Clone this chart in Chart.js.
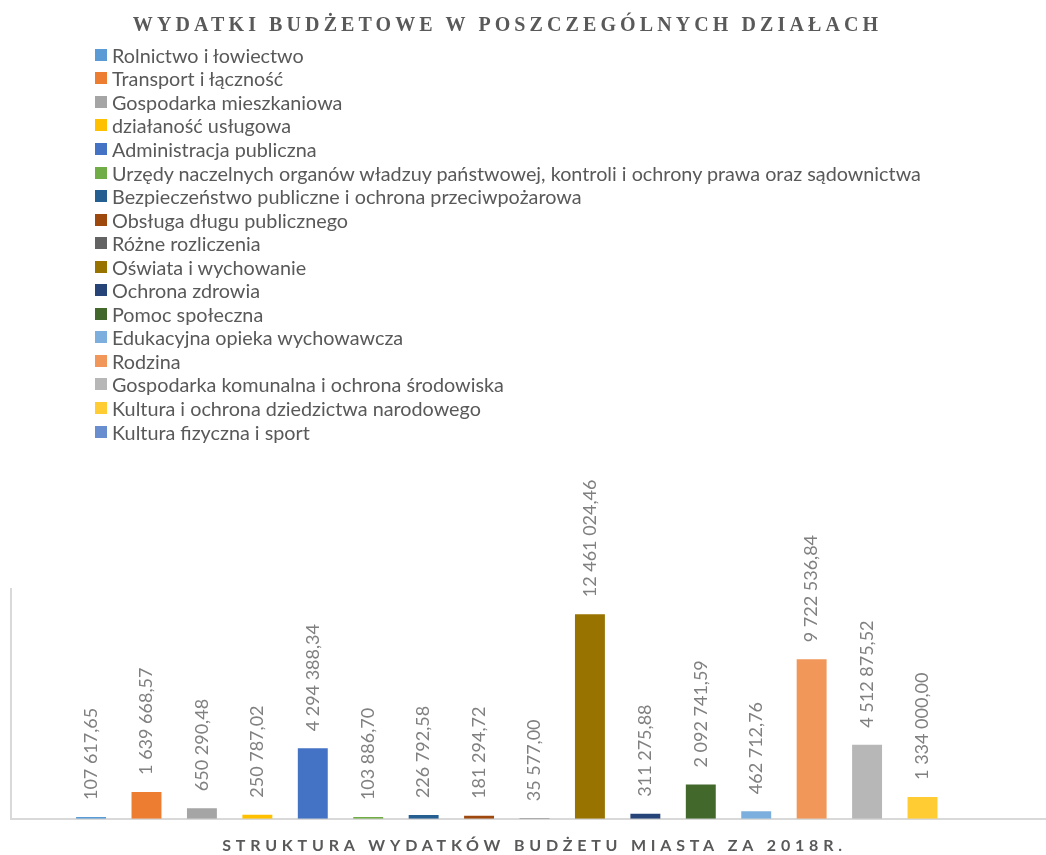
<!DOCTYPE html>
<html lang="pl">
<head>
<meta charset="utf-8">
<title>Wydatki budżetowe</title>
<script src="https://cdn.jsdelivr.net/npm/chart.js@4.4.1/dist/chart.umd.min.js"></script>
<style>
  html, body { margin: 0; padding: 0; background: #fff; overflow: hidden; }
  #wrap { position: relative; width: 1046px; height: 855px; overflow: hidden; }
  #mainTitle {
    position: absolute; top: 13px; left: 0; width: 1015px; text-align: center;
    font: bold 20px "Liberation Serif", "DejaVu Serif", serif;
    letter-spacing: 4.1px; color: #595959; white-space: nowrap;
  }
  #legend {
    position: absolute; left: 95px; top: 43px; margin: 0; padding: 0; list-style: none;
    font: 19.8px Lato, sans-serif; color: #595959;
  }
  #legend li { height: 23.56px; display: flex; align-items: center; white-space: nowrap; }
  #legend .box { width: 12px; height: 12px; margin-right: 5px; flex: none; }
  #storeChart { position: absolute; left: 0; top: 0; }
</style>
</head>
<body>
<div id="wrap">
  <canvas id="storeChart" width="1060" height="855"></canvas>
  <div id="mainTitle">WYDATKI BUDŻETOWE W POSZCZEGÓLNYCH DZIAŁACH</div>
  <ul id="legend"></ul>
</div>
<script>
const categories = [
  'Rolnictwo i łowiectwo',
  'Transport i łączność',
  'Gospodarka mieszkaniowa',
  'działaność usługowa',
  'Administracja publiczna',
  'Urzędy naczelnych organów władzuy państwowej, kontroli i ochrony prawa oraz sądownictwa',
  'Bezpieczeństwo publiczne i ochrona przeciwpożarowa',
  'Obsługa długu publicznego',
  'Różne rozliczenia',
  'Oświata i wychowanie',
  'Ochrona zdrowia',
  'Pomoc społeczna',
  'Edukacyjna opieka wychowawcza',
  'Rodzina',
  'Gospodarka komunalna i ochrona środowiska',
  'Kultura i ochrona dziedzictwa narodowego',
  'Kultura fizyczna i sport'
];
const values = [
  107617.65, 1639668.57, 650290.48, 250787.02, 4294388.34, 103886.70,
  226792.58, 181294.72, 35577.00, 12461024.46, 311275.88, 2092741.59,
  462712.76, 9722536.84, 4512875.52, 1334000.00, null
];
const colors = [
  '#5B9BD5', '#ED7D31', '#A5A5A5', '#FFC000', '#4472C4', '#70AD47',
  '#255E91', '#9E480E', '#636363', '#997300', '#264478', '#43682B',
  '#7CAFDD', '#F1975A', '#B7B7B7', '#FFCD33', '#698ED0'
];
const yMax = 14000000;
const xTitle = 'STRUKTURA WYDATKÓW BUDŻETU MIASTA ZA 2018R.';

// 1 234 567,89
function fmt(v) {
  const parts = v.toFixed(2).split('.');
  return parts[0].replace(/\B(?=(\d{3})+(?!\d))/g, ' ') + ',' + parts[1];
}

const barLabels = {
  id: 'barLabels',
  beforeDraw(chart) { chart.ctx.letterSpacing = '4.8px'; },
  beforeDatasetsDraw(chart) { chart.ctx.letterSpacing = '0px'; },
  afterDatasetsDraw(chart) {
    const ctx = chart.ctx;
    ctx.save();
    ctx.font = '18px Lato';
    ctx.fillStyle = '#808080';
    ctx.textAlign = 'left';
    ctx.textBaseline = 'middle';
    chart.data.datasets.forEach((ds, i) => {
      chart.getDatasetMeta(i).data.forEach((bar, j) => {
        const v = ds.data[j];
        if (v == null) return;
        ctx.save();
        ctx.translate(bar.x, bar.y - 17);
        ctx.rotate(-Math.PI / 2);
        ctx.fillText(fmt(v), 0, 0);
        ctx.restore();
      });
    });
    ctx.restore();
  }
};

const ctx = document.getElementById('storeChart').getContext('2d');
const chart = new Chart(ctx, {
  type: 'bar',
  data: {
    labels: [''],
    datasets: categories.map((name, i) => ({
      label: name,
      data: [values[i]],
      backgroundColor: colors[i],
      categoryPercentage: 0.9,
      barPercentage: 0.54
    }))
  },
  options: {
    responsive: false,
    animation: false,
    devicePixelRatio: 1,
    layout: { padding: { top: 589, left: 11, right: 2, bottom: 0 } },
    plugins: {
      legend: { display: false },
      tooltip: { enabled: false }
    },
    scales: {
      x: {
        grid: { display: false, drawTicks: false },
        ticks: { display: false },
        border: { display: true, color: '#d9d9d9', width: 2 },
        title: {
          display: true,
          text: xTitle,
          color: '#595959',
          font: { family: 'Lato', size: 16, weight: 'bold' },
          padding: { top: 17, bottom: 0 }
        }
      },
      y: {
        min: 0,
        max: yMax,
        grid: { display: false, drawTicks: false },
        ticks: { display: false },
        border: { display: true, color: '#d9d9d9', width: 2 }
      }
    }
  },
  plugins: [barLabels]
});

// legend as html list, built from the chart's own legend items
const legendList = document.getElementById('legend');
Chart.defaults.plugins.legend.labels.generateLabels(chart).forEach(item => {
  const li = document.createElement('li');
  li.innerHTML = `<span class="box" style="background:${item.fillStyle}"></span>${item.text}`;
  legendList.appendChild(li);
});
</script>
</body>
</html>
